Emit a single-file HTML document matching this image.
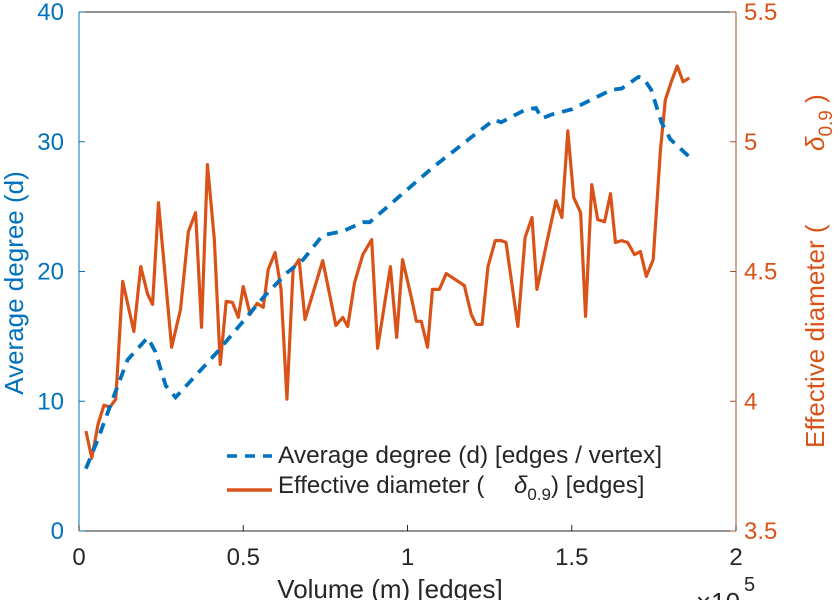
<!DOCTYPE html>
<html><head><meta charset="utf-8"><style>
body{margin:0;background:#fff}
svg text{font-family:"Liberation Sans",Arial,sans-serif}
</style></head><body>
<svg width="838" height="600" viewBox="0 0 838 600">
<g id="axes"></g>
<g id="series"></g>
<g id="legend">
<line x1="227" y1="456" x2="272" y2="456" stroke="#0072BD" stroke-width="3.5" stroke-dasharray="10,8"/>
<text x="278" y="463" font-size="24" fill="#262626" textLength="384" lengthAdjust="spacingAndGlyphs">Average degree (d) [edges / vertex]</text>
<line x1="227" y1="490" x2="272" y2="490" stroke="#D95319" stroke-width="3.5"/>
<text x="278" y="493" font-size="24" fill="#262626">Effective diameter (<tspan x="514" font-style="italic">δ</tspan><tspan font-size="17" dy="7">0.9</tspan><tspan dy="-7">) [edges]</tspan></text>
</g>
</svg>
<script>
const xTicks=[0,0.5,1,1.5,2];
const xTickLabels=["0","0.5","1","1.5","2"];
const yLeftTicks=[0,10,20,30,40];
const yRightTicks=[3.5,4,4.5,5,5.5];
const yRightTickLabels=["3.5","4","4.5","5","5.5"];
const degX=[0.021,0.058,0.106,0.148,0.209,0.233,0.264,0.294,0.345,0.421,0.491,0.561,0.633,0.682,0.742,0.803,0.864,0.885,0.976,1.076,1.197,1.264,1.285,1.361,1.391,1.409,1.439,1.500,1.621,1.652,1.703,1.718,1.742,1.773,1.800,1.855];
const degY=[4.8,7.1,10.4,13.2,14.9,13.8,11.2,10.3,11.7,13.8,15.9,18.0,19.9,20.9,22.8,23.1,23.8,23.8,25.8,28.0,30.4,31.7,31.5,32.5,32.6,31.8,32.1,32.5,34.0,34.1,35.0,34.9,34.0,31.5,30.2,28.9];
const diaX=[0.021,0.039,0.058,0.076,0.094,0.112,0.133,0.167,0.188,0.209,0.224,0.242,0.282,0.309,0.333,0.355,0.373,0.391,0.412,0.430,0.448,0.467,0.485,0.500,0.521,0.542,0.561,0.576,0.597,0.615,0.633,0.652,0.670,0.688,0.742,0.782,0.803,0.818,0.839,0.864,0.891,0.909,0.948,0.967,0.985,1.015,1.027,1.042,1.061,1.076,1.097,1.118,1.173,1.194,1.209,1.227,1.245,1.267,1.285,1.300,1.336,1.358,1.379,1.394,1.424,1.452,1.470,1.488,1.506,1.527,1.542,1.561,1.579,1.600,1.618,1.633,1.652,1.670,1.691,1.709,1.727,1.748,1.770,1.785,1.803,1.821,1.839,1.858];
const diaY=[3.885,3.781,3.912,3.985,3.977,4.008,4.462,4.269,4.519,4.412,4.373,4.765,4.208,4.354,4.654,4.727,4.285,4.912,4.623,4.142,4.385,4.381,4.323,4.442,4.335,4.377,4.362,4.508,4.573,4.431,4.008,4.512,4.546,4.315,4.542,4.292,4.323,4.288,4.458,4.565,4.623,4.204,4.519,4.246,4.546,4.381,4.308,4.308,4.208,4.431,4.431,4.492,4.446,4.335,4.296,4.296,4.519,4.619,4.619,4.612,4.288,4.631,4.708,4.431,4.612,4.773,4.708,5.042,4.785,4.727,4.327,4.835,4.700,4.692,4.800,4.612,4.619,4.612,4.565,4.577,4.481,4.546,4.969,5.162,5.231,5.292,5.231,5.246];
const L=79,R=736,T=12,B=531;
const sx=v=>L+(R-L)*v/2;
const syL=v=>B-(B-T)*v/40;
const syR=v=>B-(B-T)*(v-3.5)/2;
const NS="http://www.w3.org/2000/svg";
function mk(parent,tag,attrs,txt){const e=document.createElementNS(NS,tag);for(const k in attrs)e.setAttribute(k,attrs[k]);if(txt!==undefined)e.textContent=txt;parent.appendChild(e);return e;}
const ax=document.getElementById('axes');
let e;
e=mk(ax,'line',{x1:L,y1:T,x2:R,y2:T,stroke:'#262626','stroke-width':1});

e=mk(ax,'line',{x1:L,y1:B,x2:R,y2:B,stroke:'#262626','stroke-width':1});

e=mk(ax,'line',{x1:L,y1:T,x2:L,y2:B,stroke:'#0072BD','stroke-width':1});

e=mk(ax,'line',{x1:R,y1:T,x2:R,y2:B,stroke:'#A0522D','stroke-width':1});

xTicks.forEach((v,i)=>{const x=sx(v);
 e=mk(ax,'line',{x1:x,y1:B,x2:x,y2:B-6,stroke:'#262626'});
 
 e=mk(ax,'text',{x:x,y:565,'font-size':24,fill:'#262626','text-anchor':'middle'},xTickLabels[i]);
 });
yLeftTicks.forEach(v=>{const y=syL(v);
 e=mk(ax,'line',{x1:L,y1:y,x2:L+6,y2:y,stroke:'#0072BD'});
 
 e=mk(ax,'text',{x:L-15,y:y+8,'font-size':24,fill:'#0072BD','text-anchor':'end'},String(v));
 });
yRightTicks.forEach((v,i)=>{const y=syR(v);
 e=mk(ax,'line',{x1:R,y1:y,x2:R-6,y2:y,stroke:'#A0522D'});
 
 e=mk(ax,'text',{x:R+8,y:y+8,'font-size':24,fill:'#D95319','text-anchor':'start'},yRightTickLabels[i]);
 });
e=mk(ax,'text',{x:390,y:598,'font-size':26,fill:'#262626','text-anchor':'middle'},'Volume (m) [edges]');

e=mk(ax,'text',{x:696,y:611,'font-size':26,fill:'#262626'},'×10');

e=mk(ax,'text',{x:744,y:591,'font-size':20,fill:'#262626'},'5');

e=mk(ax,'text',{x:0,y:0,'font-size':26,fill:'#0072BD','text-anchor':'middle',transform:'translate(23,283) rotate(-90)'},'Average degree (d)');

e=mk(ax,'text',{x:0,y:0,'font-size':26,fill:'#D95319','text-anchor':'start',transform:'translate(824,448) rotate(-90)'});

e.innerHTML='Effective diameter (<tspan x="297" font-style="italic">δ</tspan><tspan font-size="19" dy="8">0.9</tspan><tspan dy="-8"> )</tspan>';
const sr=document.getElementById('series');
e=mk(sr,'polyline',{points:diaX.map((x,i)=>sx(x)+','+syR(diaY[i])).join(' '),fill:'none',stroke:'#D95319','stroke-width':3.2,'stroke-linejoin':'round'});

e=mk(sr,'polyline',{points:degX.map((x,i)=>sx(x)+','+syL(degY[i])).join(' '),fill:'none',stroke:'#0072BD','stroke-width':3.8,'stroke-dasharray':'11,8'});

</script>
</body></html>
